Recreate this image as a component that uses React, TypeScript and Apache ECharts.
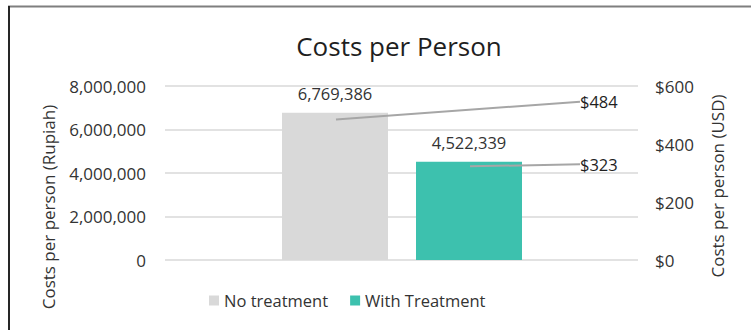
import React, { useEffect, useRef } from "react";
import * as echarts from "echarts";

const title = "Costs per Person";
const categories = ["No treatment", "With Treatment"];
const rupiahValues = [6769386, 4522339];
const usdValues = [484, 323];
const leftTicks = { min: 0, max: 8000000, interval: 2000000 };
const rightTicks = { min: 0, max: 600, interval: 200 };
const leftAxisTitle = "Costs per person (Rupiah)";
const rightAxisTitle = "Costs per person (USD)";

const FONT = "'Open Sans', 'Noto Sans', sans-serif";
const TEXT = "#333333";
const COLORS = ["#d9d9d9", "#3dc1ae"];

const fmt = (v: number) => v.toLocaleString("en-US");

export default function App() {
  const ref = useRef<HTMLDivElement>(null);
  useEffect(() => {
    document.body.style.margin = "0";
    if (!ref.current) return;
    const chart = echarts.init(ref.current, undefined, { renderer: "svg" });
    const usdLabelDy = [-18, -2];
    const barLabel = {
      show: true,
      position: "top",
      distance: 11,
      formatter: (p: any) => fmt(p.value),
      fontSize: 16.5,
      color: TEXT,
      fontFamily: FONT,
    };
    chart.setOption({
      animation: false,
      backgroundColor: "#ffffff",
      textStyle: { fontFamily: FONT },
      title: {
        text: title,
        left: 394,
        top: 28,
        textAlign: "center",
        textStyle: { fontFamily: FONT, fontSize: 26, fontWeight: "normal", color: "#1f1f1f" },
      },
      legend: {
        left: 204,
        top: 287,
        itemWidth: 10,
        itemHeight: 10,
        itemGap: 22,
        icon: "rect",
        data: categories,
        textStyle: { fontFamily: FONT, fontSize: 16.5, color: TEXT },
      },
      grid: [
        { left: 165, right: 113, top: 86, bottom: 70 },
        { left: 268, right: 215, top: 86, bottom: 70 },
      ],
      xAxis: [
        { type: "category", gridIndex: 0, data: [""], show: false },
        { type: "category", gridIndex: 1, data: categories, show: false },
      ],
      yAxis: [
        {
          type: "value",
          gridIndex: 0,
          position: "left",
          ...leftTicks,
          axisLine: { show: false },
          axisTick: { show: false },
          axisLabel: { formatter: (v: number) => fmt(v), margin: 19, fontSize: 17, color: TEXT, fontFamily: FONT },
          splitLine: { lineStyle: { color: "#d9d9d9", width: 1.5 } },
        },
        {
          type: "value",
          gridIndex: 0,
          position: "right",
          ...rightTicks,
          axisLine: { show: false },
          axisTick: { show: false },
          axisLabel: { formatter: (v: number) => "$" + v, margin: 17, fontSize: 17, color: TEXT, fontFamily: FONT },
          splitLine: { show: false },
        },
        { type: "value", gridIndex: 1, ...leftTicks, show: false, splitLine: { show: false } },
        { type: "value", gridIndex: 1, ...rightTicks, show: false, splitLine: { show: false } },
      ],
      series: [
        {
          name: categories[0],
          type: "bar",
          xAxisIndex: 1,
          yAxisIndex: 2,
          data: [rupiahValues[0], "-"],
          barWidth: 106,
          barGap: "-100%",
          itemStyle: { color: COLORS[0] },
          label: barLabel,
        },
        {
          name: categories[1],
          type: "bar",
          xAxisIndex: 1,
          yAxisIndex: 2,
          data: ["-", rupiahValues[1]],
          barWidth: 106,
          barGap: "-100%",
          itemStyle: { color: COLORS[1] },
          label: barLabel,
        },
        {
          name: "USD",
          type: "scatter",
          xAxisIndex: 1,
          yAxisIndex: 3,
          data: usdValues,
          symbolSize: 2,
          itemStyle: { color: "rgba(0,0,0,0)" },
          label: {
            show: true,
            formatter: (p: any) => "$" + p.value,
            fontSize: 16.5,
            color: "#1f1f1f",
            opacity: 1,
            fontFamily: FONT,
          },
          labelLine: { show: true, lineStyle: { color: "#a6a6a6", width: 2 } },
          labelLayout: (params: any) => {
            const cx = params.rect.x + params.rect.width / 2;
            const cy = params.rect.y + params.rect.height / 2;
            const ly = cy + usdLabelDy[params.dataIndex];
            return {
              x: 580,
              y: ly,
              align: "left",
              verticalAlign: "middle",
              labelLinePoints: [
                [cx, cy],
                [572, ly],
              ],
            };
          },
        },
      ],
      graphic: [
        {
          type: "text",
          x: 48,
          y: 207,
          rotation: Math.PI / 2,
          style: {
            text: leftAxisTitle,
            fontSize: 17,
            fontFamily: FONT,
            fill: TEXT,
            textAlign: "center",
            textVerticalAlign: "middle",
          },
        },
        {
          type: "text",
          x: 717,
          y: 186,
          rotation: Math.PI / 2,
          style: {
            text: rightAxisTitle,
            fontSize: 17,
            fontFamily: FONT,
            fill: TEXT,
            textAlign: "center",
            textVerticalAlign: "middle",
          },
        },
        {
          type: "line",
          shape: { x1: 8, y1: 6.5, x2: 751, y2: 6.5 },
          style: { stroke: "#7f7f7f", lineWidth: 2 },
        },
        {
          type: "line",
          shape: { x1: 9, y1: 6, x2: 9, y2: 330 },
          style: { stroke: "#262626", lineWidth: 2 },
        },
      ],
    });
    return () => chart.dispose();
  }, []);
  return <div ref={ref} style={{ width: 751, height: 330 }} />;
}
